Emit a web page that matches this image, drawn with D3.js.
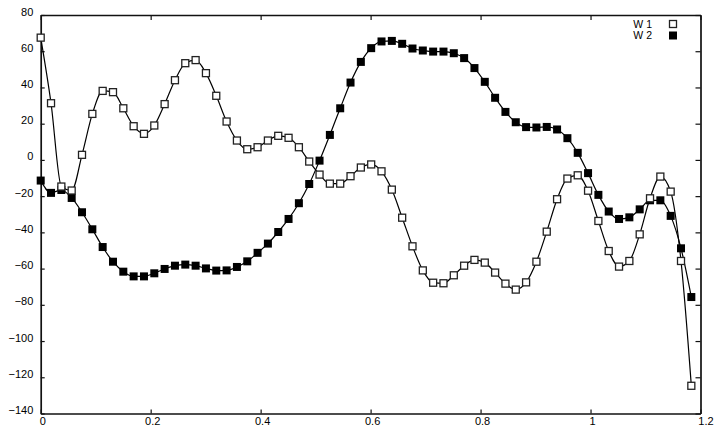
<!DOCTYPE html>
<html><head><meta charset="utf-8">
<script src="https://cdn.jsdelivr.net/npm/d3@7"></script>
<style>
html,body{margin:0;padding:0;background:#fff;}
svg{display:block;font-family:"Liberation Sans",Arial,Helvetica,sans-serif;}
</style></head>
<body>
<svg id="chart" width="719" height="436"></svg>
<script>
// ---- data ----
const sampleCount = 64;
const sampleStep = 0.018783;           // uniform spacing of the sample grid
const xs = d3.range(sampleCount).map(i => i * sampleStep);
const w1 = [67.5, 31.3, -14.7, -16.9, 2.8, 25.4, 38.1, 37.4, 28.5, 18.6, 14.4,
            19.0, 30.8, 44.0, 53.4, 55.1, 47.9, 35.4, 21.2, 10.7, 5.9, 7.0,
            10.7, 13.3, 12.2, 7.0, -0.9, -8.1, -13.1, -13.1, -9.0, -4.2, -2.5,
            -6.3, -16.4, -31.9, -47.7, -61.0, -67.8, -68.1, -63.7, -58.4, -55.2,
            -56.7, -62.2, -68.3, -71.6, -67.6, -56.2, -39.6, -21.7, -10.3, -8.5, -17.0,
            -33.7, -50.3, -58.9, -55.8, -41.1, -21.2, -9.2, -17.5, -55.8, -124.7];
const w2 = [-11.4, -18.2, -16.6, -21.0, -28.9, -38.3, -48.1, -56.2, -61.7, -64.3, -64.3,
            -62.6, -60.2, -58.4, -57.8, -58.4, -59.9, -61.1, -61.0, -59.1, -56.0, -51.3,
            -46.2, -39.8, -32.6, -23.9, -13.3, -0.4, 13.8, 28.5, 42.7, 54.1, 61.7,
            65.4, 65.7, 64.1, 61.5, 60.4, 59.8, 59.8, 58.9, 56.2, 50.7,
            43.1, 34.3, 26.5, 20.8, 18.1, 17.9, 18.2, 16.8, 12.0, 3.9, -7.3,
            -19.3, -28.5, -32.6, -31.7, -27.3, -22.3, -22.3, -30.9, -48.8, -75.7];
const seriesNames = ["W 1", "W 2"];
const xTicks = [0, 0.2, 0.4, 0.6, 0.8, 1, 1.2];
const yTicks = [-140, -120, -100, -80, -60, -40, -20, 0, 20, 40, 60, 80];

// ---- layout ----
const svg = d3.select("#chart");
const L = 40.7, R = 700.5, T = 15, B = 413.5;
const x = d3.scaleLinear().domain([0, 1.2]).range([L, R]);
const y = d3.scaleLinear().domain([-140, 80]).range([B, T]);

function styleAxis(g) {
  g.select(".domain").attr("stroke", "#111").attr("stroke-width", 1.7);
  g.selectAll(".tick line").attr("stroke", "#111").attr("stroke-width", 1.2);
  g.selectAll(".tick text").attr("fill", "#000").attr("font-size", 11);
}

svg.append("g").attr("transform", `translate(0,${B})`)
  .call(d3.axisBottom(x).tickValues(xTicks).tickFormat(d3.format("")).tickSize(-4).tickSizeOuter(0).tickPadding(3.7))
  .call(g => g.attr("font-family", null))
  .call(styleAxis)
  .call(g => g.selectAll(".tick text").attr("dx", d => d === 1.2 ? 5 : 1.5));

svg.append("g").attr("transform", `translate(${L},0)`)
  .call(d3.axisLeft(y).tickValues(yTicks).tickSize(-4).tickSizeOuter(0).tickPadding(7.4))
  .call(g => g.attr("font-family", null))
  .call(styleAxis)
  .call(g => g.selectAll(".tick text").attr("y", -3.5));

svg.append("g").attr("transform", `translate(0,${T})`)
  .call(d3.axisTop(x).tickValues(xTicks).tickFormat("").tickSize(-5).tickSizeOuter(0))
  .call(styleAxis);

svg.append("g").attr("transform", `translate(${R},0)`)
  .call(d3.axisRight(y).tickValues(yTicks).tickFormat("").tickSize(-5).tickSizeOuter(0))
  .call(styleAxis);

// ---- series ----
const line = d3.line().x(d => x(d[0])).y(d => y(d[1])).curve(d3.curveMonotoneX);
const data1 = xs.map((v, i) => [v, w1[i]]);
const data2 = xs.map((v, i) => [v, w2[i]]);

[data1, data2].forEach(d => {
  svg.append("path").datum(d).attr("d", line)
    .attr("fill", "none").attr("stroke", "#000").attr("stroke-width", 1.2);
});

const s1 = 7, s2 = 8;
svg.append("g").selectAll("rect").data(data2).join("rect")
  .attr("x", d => x(d[0]) - s2 / 2).attr("y", d => y(d[1]) - s2 / 2)
  .attr("width", s2).attr("height", s2).attr("fill", "#000");
svg.append("g").selectAll("rect").data(data1).join("rect")
  .attr("x", d => x(d[0]) - s1 / 2).attr("y", d => y(d[1]) - s1 / 2)
  .attr("width", s1).attr("height", s1)
  .attr("fill", "#fff").attr("stroke", "#222").attr("stroke-width", 1.3);

// ---- legend ----
const legend = svg.append("g");
seriesNames.forEach((name, i) => {
  const cy = 24 + i * 11.5;
  legend.append("text").attr("x", 652).attr("y", cy).attr("dy", "0.35em")
    .attr("text-anchor", "end").attr("font-size", 10.5).text(name);
  if (i === 0) {
    legend.append("rect").attr("x", 673 - s1 / 2).attr("y", cy - s1 / 2)
      .attr("width", s1).attr("height", s1).attr("fill", "#fff")
      .attr("stroke", "#222").attr("stroke-width", 1.3);
  } else {
    legend.append("rect").attr("x", 673 - s2 / 2).attr("y", cy - s2 / 2)
      .attr("width", s2).attr("height", s2).attr("fill", "#000");
  }
});
</script>
</body></html>
